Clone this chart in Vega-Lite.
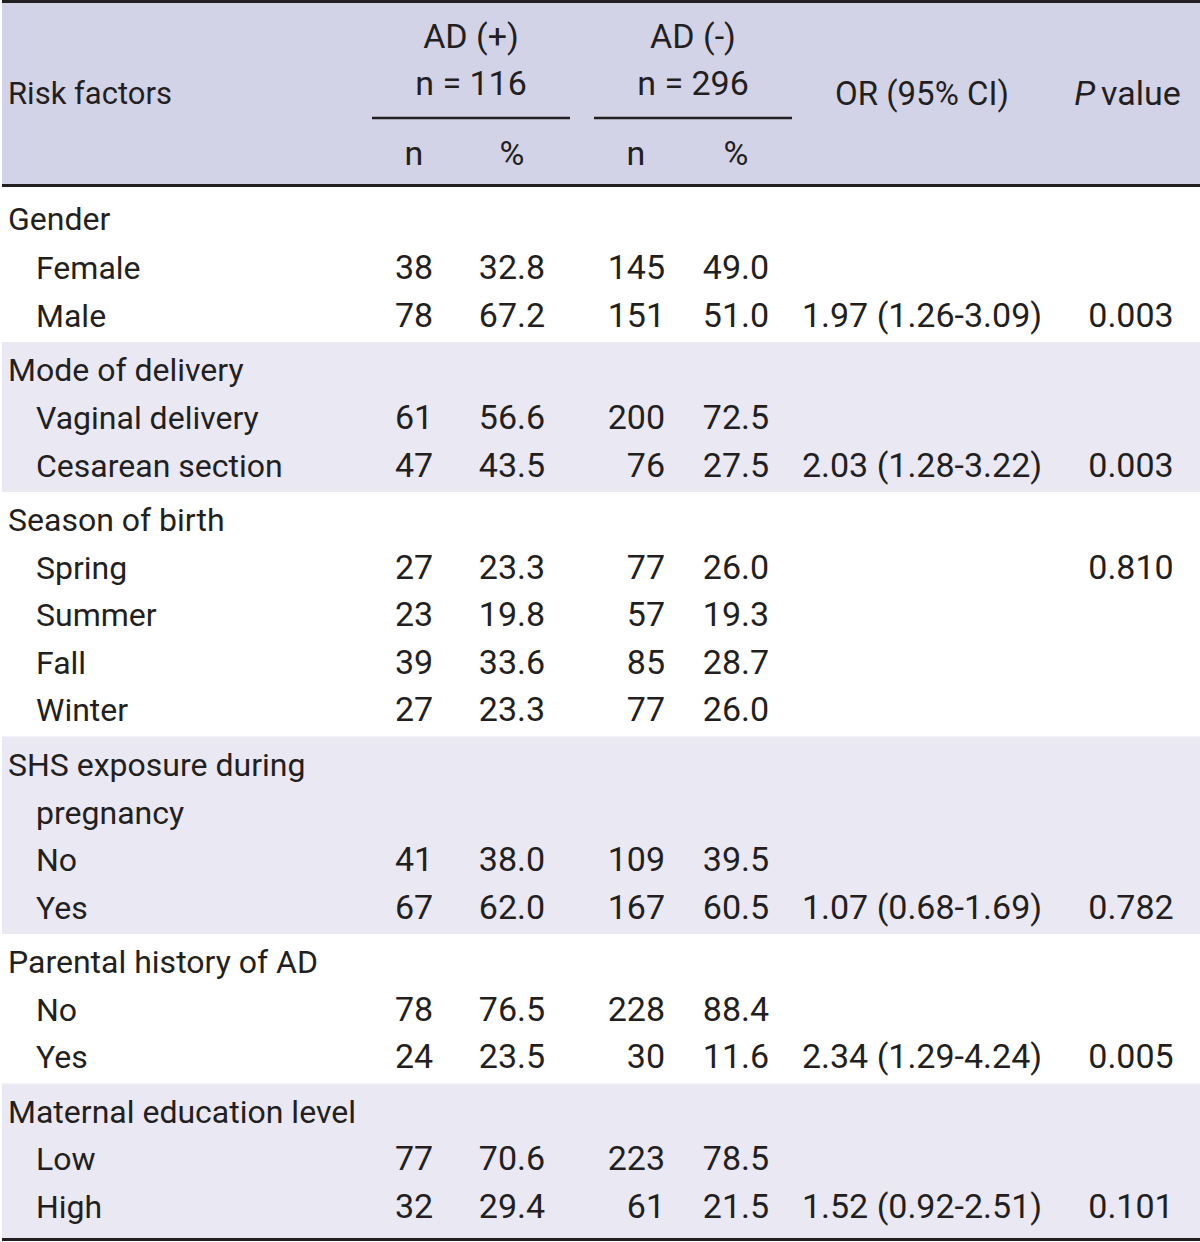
{
  "$schema": "https://vega.github.io/schema/vega-lite/v6.json",
  "width": 1200,
  "height": 1242,
  "autosize": {"type": "fit", "contains": "padding"},
  "padding": 0,
  "background": "white",
  "config": {
    "view": {"stroke": null},
    "text": {"font": "Roboto", "fontSize": 34, "color": "#231f20", "baseline": "middle", "dy": 2}
  },
  "datasets": {
    "rows": [
      {"r": 0, "label": "Gender", "level": 0},
      {"r": 1, "label": "Female", "level": 1, "n1": "38", "p1": "32.8", "n2": "145", "p2": "49.0"},
      {"r": 2, "label": "Male", "level": 1, "n1": "78", "p1": "67.2", "n2": "151", "p2": "51.0", "or": "1.97 (1.26-3.09)", "p": "0.003"},
      {"r": 3, "label": "Mode of delivery", "level": 0},
      {"r": 4, "label": "Vaginal delivery", "level": 1, "n1": "61", "p1": "56.6", "n2": "200", "p2": "72.5"},
      {"r": 5, "label": "Cesarean section", "level": 1, "n1": "47", "p1": "43.5", "n2": "76", "p2": "27.5", "or": "2.03 (1.28-3.22)", "p": "0.003"},
      {"r": 6, "label": "Season of birth", "level": 0},
      {"r": 7, "label": "Spring", "level": 1, "n1": "27", "p1": "23.3", "n2": "77", "p2": "26.0", "p": "0.810"},
      {"r": 8, "label": "Summer", "level": 1, "n1": "23", "p1": "19.8", "n2": "57", "p2": "19.3"},
      {"r": 9, "label": "Fall", "level": 1, "n1": "39", "p1": "33.6", "n2": "85", "p2": "28.7"},
      {"r": 10, "label": "Winter", "level": 1, "n1": "27", "p1": "23.3", "n2": "77", "p2": "26.0"},
      {"r": 11, "label": "SHS exposure during", "level": 0},
      {"r": 12, "label": "pregnancy", "level": 1},
      {"r": 13, "label": "No", "level": 1, "n1": "41", "p1": "38.0", "n2": "109", "p2": "39.5"},
      {"r": 14, "label": "Yes", "level": 1, "n1": "67", "p1": "62.0", "n2": "167", "p2": "60.5", "or": "1.07 (0.68-1.69)", "p": "0.782"},
      {"r": 15, "label": "Parental history of AD", "level": 0},
      {"r": 16, "label": "No", "level": 1, "n1": "78", "p1": "76.5", "n2": "228", "p2": "88.4"},
      {"r": 17, "label": "Yes", "level": 1, "n1": "24", "p1": "23.5", "n2": "30", "p2": "11.6", "or": "2.34 (1.29-4.24)", "p": "0.005"},
      {"r": 18, "label": "Maternal education level", "level": 0},
      {"r": 19, "label": "Low", "level": 1, "n1": "77", "p1": "70.6", "n2": "223", "p2": "78.5"},
      {"r": 20, "label": "High", "level": 1, "n1": "32", "p1": "29.4", "n2": "61", "p2": "21.5", "or": "1.52 (0.92-2.51)", "p": "0.101"}
    ],
    "bands": [
      {"group": "Mode of delivery", "from": 2.5, "to": 5.5},
      {"group": "SHS exposure during pregnancy", "from": 10.5, "to": 14.5},
      {"group": "Maternal education level", "from": 17.5, "to": 20.5}
    ],
    "borders": [
      {"line": -4, "w": "top"},
      {"line": -0.5, "w": "head"},
      {"line": 20.5, "w": "bottom"}
    ],
    "groups": [
      {"from": 2, "to": 6},
      {"from": 7, "to": 12}
    ],
    "header": [
      {"text": "AD (+)", "col": 4, "line": -3},
      {"text": "n = 116", "col": 4, "line": -2},
      {"text": "AD (-)", "col": 10, "line": -3},
      {"text": "n = 296", "col": 10, "line": -2},
      {"text": "n", "col": 3, "line": -1},
      {"text": "%", "col": 5, "line": -1},
      {"text": "n", "col": 8, "line": -1},
      {"text": "%", "col": 11, "line": -1}
    ],
    "spans": [
      {"text": "Risk factors", "col": 1, "line": -2, "kind": "left"},
      {"text": "OR (95% CI)", "col": 13, "line": -2, "kind": "center"},
      {"text": "P", "col": 14, "line": -2, "kind": "italic"},
      {"text": "value", "col": 14, "line": -2, "kind": "after"}
    ]
  },
  "layer": [
    {
      "data": {"values": [{"part": "header"}]},
      "mark": {"type": "rect", "fill": "#d3d3e7"},
      "encoding": {
        "x": {"datum": 0, "type": "quantitative", "scale": {"type": "linear", "domain": [0,1,2,3,4,5,6,7,8,9,10,11,12,13,14,15], "range": [0,6,370,412,469,510,568,592,634,663,691,734,790,920,1129,1200], "nice": false, "zero": false}, "axis": null},
        "x2": {"datum": 15},
        "y": {"datum": -4, "type": "quantitative", "scale": {"type": "linear", "domain": [-4,-3,-2,-1,-0.5,0,1,2,3,4,5,6,7,8,9,10,11,12,13,14,15,16,17,18,19,20,20.5], "range": [1.5,36,83,153,185.5,218,267,315,369,417,465,519,567,614,662,709,764,812,859,907,961,1009,1056,1111,1158,1206,1239.5], "nice": false, "zero": false}, "axis": null},
        "y2": {"datum": -0.5}
      }
    },
    {
      "data": {"name": "bands"},
      "mark": {"type": "rect", "fill": "#e9e8f3"},
      "encoding": {
        "x": {"datum": 0, "type": "quantitative"},
        "x2": {"datum": 15},
        "y": {"field": "from", "type": "quantitative"},
        "y2": {"field": "to"}
      }
    },
    {
      "data": {"name": "borders"},
      "mark": {"type": "rule", "stroke": "#231f20", "strokeWidth": 3},
      "encoding": {
        "x": {"datum": 0, "type": "quantitative"},
        "x2": {"datum": 15},
        "y": {"field": "line", "type": "quantitative"}
      }
    },
    {
      "data": {"name": "groups"},
      "mark": {"type": "rule", "stroke": "#231f20", "strokeWidth": 2.5},
      "encoding": {
        "x": {"field": "from", "type": "quantitative"},
        "x2": {"field": "to"},
        "y": {"datum": -1.5, "type": "quantitative"}
      }
    },
    {
      "data": {"name": "header"},
      "mark": {"type": "text", "align": "center"},
      "encoding": {
        "x": {"field": "col", "type": "quantitative"},
        "y": {"field": "line", "type": "quantitative"},
        "text": {"field": "text", "type": "nominal"}
      }
    },
    {
      "data": {"name": "spans"},
      "transform": [{"filter": "datum.kind === 'left'"}],
      "mark": {"type": "text", "align": "left", "dy": 12, "fontSize": 31},
      "encoding": {
        "x": {"field": "col", "type": "quantitative"},
        "y": {"field": "line", "type": "quantitative"},
        "text": {"field": "text", "type": "nominal"}
      }
    },
    {
      "data": {"name": "spans"},
      "transform": [{"filter": "datum.kind === 'center'"}],
      "mark": {"type": "text", "align": "center", "dy": 12, "fontSize": 33},
      "encoding": {
        "x": {"field": "col", "type": "quantitative"},
        "y": {"field": "line", "type": "quantitative"},
        "text": {"field": "text", "type": "nominal"}
      }
    },
    {
      "data": {"name": "spans"},
      "transform": [{"filter": "datum.kind === 'italic'"}],
      "mark": {"type": "text", "align": "right", "dy": 12, "dx": -36, "fontStyle": "italic"},
      "encoding": {
        "x": {"field": "col", "type": "quantitative"},
        "y": {"field": "line", "type": "quantitative"},
        "text": {"field": "text", "type": "nominal"}
      }
    },
    {
      "data": {"name": "spans"},
      "transform": [{"filter": "datum.kind === 'after'"}],
      "mark": {"type": "text", "align": "left", "dy": 12, "dx": -30},
      "encoding": {
        "x": {"field": "col", "type": "quantitative"},
        "y": {"field": "line", "type": "quantitative"},
        "text": {"field": "text", "type": "nominal"}
      }
    },
    {
      "data": {"name": "rows"},
      "transform": [{"filter": "datum.level === 0"}],
      "mark": {"type": "text", "align": "left", "fontSize": 32},
      "encoding": {
        "x": {"datum": 1, "type": "quantitative"},
        "y": {"field": "r", "type": "quantitative"},
        "text": {"field": "label", "type": "nominal"}
      }
    },
    {
      "data": {"name": "rows"},
      "transform": [{"filter": "datum.level === 1"}],
      "mark": {"type": "text", "align": "left", "dx": 28, "fontSize": 32},
      "encoding": {
        "x": {"datum": 1, "type": "quantitative"},
        "y": {"field": "r", "type": "quantitative"},
        "text": {"field": "label", "type": "nominal"}
      }
    },
    {
      "data": {"name": "rows"},
      "transform": [{"filter": "isValid(datum.n1)"}],
      "mark": {"type": "text", "align": "center"},
      "encoding": {
        "x": {"datum": 3, "type": "quantitative"},
        "y": {"field": "r", "type": "quantitative"},
        "text": {"field": "n1", "type": "nominal"}
      }
    },
    {
      "data": {"name": "rows"},
      "transform": [{"filter": "isValid(datum.p1)"}],
      "mark": {"type": "text", "align": "center"},
      "encoding": {
        "x": {"datum": 5, "type": "quantitative"},
        "y": {"field": "r", "type": "quantitative"},
        "text": {"field": "p1", "type": "nominal"}
      }
    },
    {
      "data": {"name": "rows"},
      "transform": [{"filter": "isValid(datum.n2)"}],
      "mark": {"type": "text", "align": "right"},
      "encoding": {
        "x": {"datum": 9, "type": "quantitative"},
        "y": {"field": "r", "type": "quantitative"},
        "text": {"field": "n2", "type": "nominal"}
      }
    },
    {
      "data": {"name": "rows"},
      "transform": [{"filter": "isValid(datum.p2)"}],
      "mark": {"type": "text", "align": "center"},
      "encoding": {
        "x": {"datum": 11, "type": "quantitative"},
        "y": {"field": "r", "type": "quantitative"},
        "text": {"field": "p2", "type": "nominal"}
      }
    },
    {
      "data": {"name": "rows"},
      "transform": [{"filter": "isValid(datum.or)"}],
      "mark": {"type": "text", "align": "center"},
      "encoding": {
        "x": {"datum": 13, "type": "quantitative"},
        "y": {"field": "r", "type": "quantitative"},
        "text": {"field": "or", "type": "nominal"}
      }
    },
    {
      "data": {"name": "rows"},
      "transform": [{"filter": "isValid(datum.p)"}],
      "mark": {"type": "text", "align": "center"},
      "encoding": {
        "x": {"datum": 14, "type": "quantitative"},
        "y": {"field": "r", "type": "quantitative"},
        "text": {"field": "p", "type": "nominal"}
      }
    }
  ]
}
